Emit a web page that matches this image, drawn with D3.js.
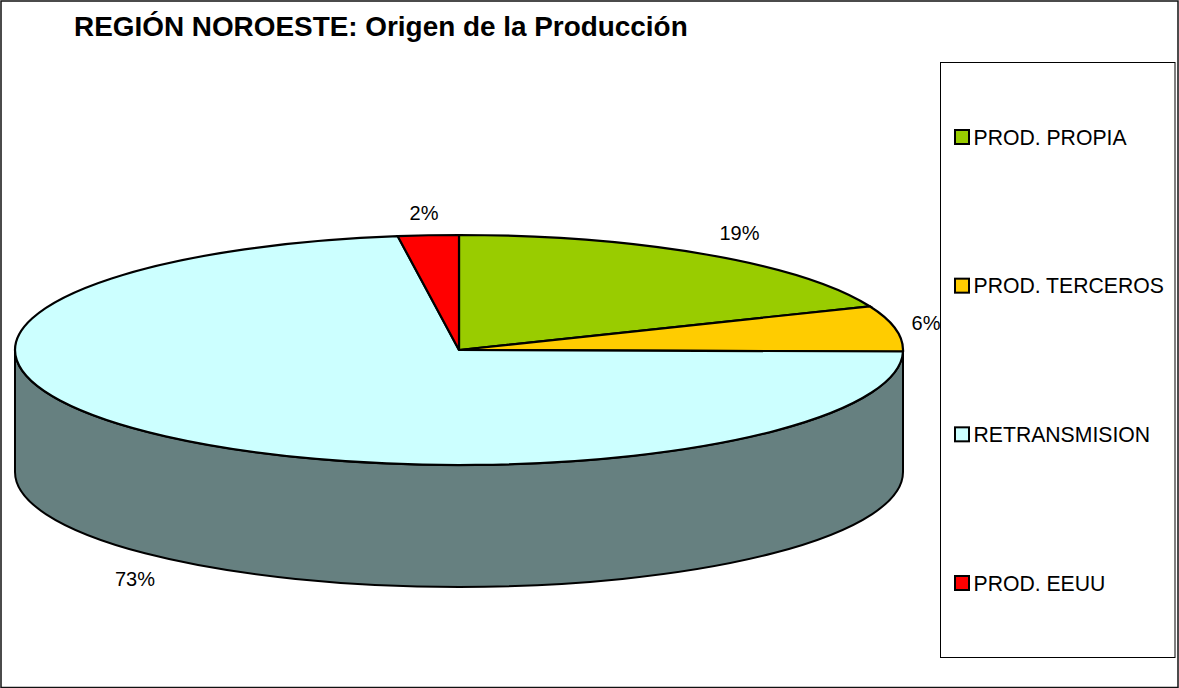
<!DOCTYPE html>
<html><head><meta charset="utf-8">
<script src="https://cdn.jsdelivr.net/npm/d3@7/dist/d3.min.js"></script>
<style>html,body{margin:0;padding:0;background:#fff}svg{display:block}text{font-family:"Liberation Sans",Arial,sans-serif;fill:#000}</style>
</head><body><svg id="c" width="1179" height="688"></svg>
<script>
const titleText = "REGIÓN NOROESTE: Origen de la Producción";
const categories = ["PROD. PROPIA","PROD. TERCEROS","RETRANSMISION","PROD. EEUU"];
const values = [18.8,6.4,72.6,2.2];
const labels = ["19%","6%","73%","2%"];
const colors = ["#99cc00","#ffcc00","#ccffff","#ff0000"];
const wallColor = "#668080";

const svg = d3.select("#c");
svg.append("rect").attr("x",1).attr("y",1).attr("width",1177).attr("height",686.5).attr("fill","#fff").attr("stroke","#111").attr("stroke-width",1.5);
svg.append("text").attr("x",74).attr("y",36).attr("font-size",27.9).attr("font-weight","bold").text(titleText);

const cx=459, cy=350, rx=444, ry=115, depth=122;
const pie = d3.pie().value(d=>d).sort(null)(values);
const arc = d3.arc().innerRadius(0).outerRadius(1);
const g = svg.append("g");

// side wall
g.append("path")
 .attr("d",`M${cx-rx},${cy}A${rx},${ry} 0 0 0 ${cx+rx},${cy}L${cx+rx},${cy+depth}A${rx},${ry} 0 0 1 ${cx-rx},${cy+depth}Z`)
 .attr("fill",wallColor).attr("stroke","#000").attr("stroke-width",2);

// top slices
g.selectAll("path.s").data(pie).join("path").attr("class","s")
 .attr("d",arc)
 .attr("transform",`translate(${cx},${cy}) scale(${rx},${ry})`)
 .attr("fill",(d,i)=>colors[i])
 .attr("stroke","#000").attr("stroke-width",2.2)
 .attr("vector-effect","non-scaling-stroke");

// data labels
const labelPos=[[739.5,240],[926,330],[135,586],[424,220]];
svg.selectAll("text.l").data(labels).join("text").attr("class","l")
 .attr("x",(d,i)=>labelPos[i][0]).attr("y",(d,i)=>labelPos[i][1])
 .attr("text-anchor","middle").attr("font-size",20).text(d=>d);

// legend
svg.append("rect").attr("x",940.5).attr("y",62.5).attr("width",234.5).attr("height",595).attr("fill","#fff").attr("stroke","#000");
const ly = d3.scalePoint().domain(categories).range([137,583]);
const lg = svg.selectAll("g.lg").data(categories).join("g").attr("class","lg").attr("transform",d=>`translate(0,${ly(d)})`);
lg.append("rect").attr("x",955).attr("y",-7).attr("width",14).attr("height",14)
 .attr("fill",(d,i)=>colors[i]).attr("stroke","#000").attr("stroke-width",2);
lg.append("text").attr("x",973.5).attr("y",7.5).attr("font-size",21.2).text(d=>d);
</script></body></html>
